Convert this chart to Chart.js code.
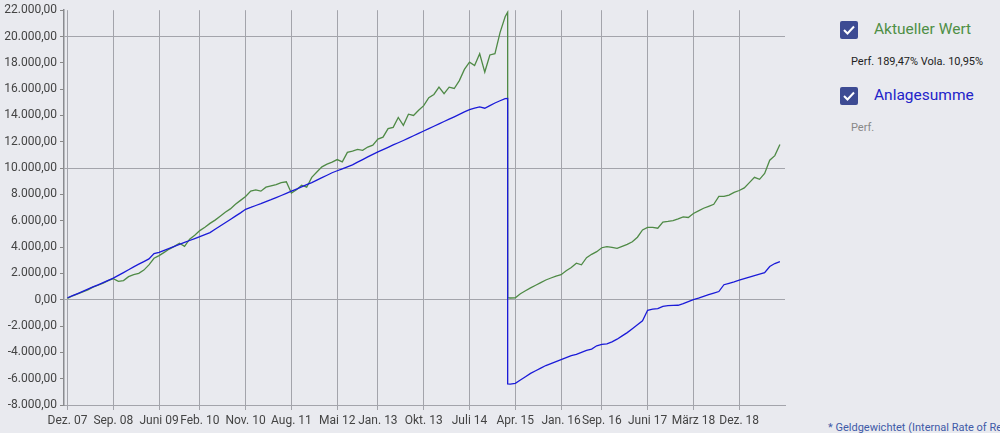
<!DOCTYPE html>
<html>
<head>
<meta charset="utf-8">
<script src="https://cdn.jsdelivr.net/npm/chart.js@4"></script>
<style>
  html, body { margin: 0; padding: 0; }
  body { width: 1000px; height: 433px; background: #e9eaef; font-family: Roboto, "Noto Sans", sans-serif; position: relative; overflow: hidden; }
  #chartBox { position: absolute; left: 0; top: 0; width: 790px; height: 433px; }
  .cb { position: absolute; width: 18px; height: 18px; background: #3d4b93; border-radius: 2px; }
  .cb svg { position: absolute; left: 3px; top: 4px; }
  .lbl { position: absolute; font-size: 15.5px; white-space: nowrap; }
  .sub { position: absolute; font-size: 11px; white-space: nowrap; }
  #note { position: absolute; left: 828px; top: 421px; font-size: 11px; color: #3f5aa8; white-space: nowrap; }
</style>
</head>
<body>
<div id="chartBox"><canvas id="perfChart"></canvas></div>

<div class="cb" style="left:840px; top:21px;"><svg width="12" height="10"><polyline points="1,5 4.5,8.5 11,1.5" fill="none" stroke="#fff" stroke-width="2"/></svg></div>
<div class="lbl" style="left:874px; top:20px; color:#4f8f46;">Aktueller Wert</div>
<div class="sub" style="left:851px; top:55px; color:#222;">Perf. 189,47% Vola. 10,95%</div>

<div class="cb" style="left:840px; top:87px;"><svg width="12" height="10"><polyline points="1,5 4.5,8.5 11,1.5" fill="none" stroke="#fff" stroke-width="2"/></svg></div>
<div class="lbl" style="left:874px; top:86px; color:#2323c9;">Anlagesumme</div>
<div class="sub" style="left:851px; top:121px; color:#888;">Perf.</div>

<div id="note">* Geldgewichtet (Internal Rate of Return)</div>

<script>
// x = months since Dez. 07; the drop happens mid-month, so 86.5 appears twice
const months = [];
for (let m = 0; m <= 86; m++) months.push(m);
months.push(86.5, 86.5);
for (let m = 87; m <= 140; m++) months.push(m);

const tickMonths = [0, 9, 18, 26, 35, 44, 53, 61, 70, 79, 88, 97, 105, 114, 123, 132];
const tickLabels = ['Dez. 07', 'Sep. 08', 'Juni 09', 'Feb. 10', 'Nov. 10', 'Aug. 11', 'Mai 12', 'Jan. 13',
  'Okt. 13', 'Juli 14', 'Apr. 15', 'Jan. 16', 'Sep. 16', 'Juni 17', 'März 18', 'Dez. 18'];

const aktuellerWert = [
  100, 300, 450, 600, 750, 950, 1100, 1250, 1450, 1600,
  1400, 1450, 1750, 1900, 2000, 2250, 2650, 3150, 3350, 3600,
  3850, 4050, 4290, 4050, 4600, 4900, 5250, 5500, 5800, 6050,
  6350, 6650, 6900, 7250, 7550, 7850, 8250, 8350, 8250, 8550,
  8650, 8750, 8900, 8960, 8100, 8350, 8700, 8550, 9300, 9700,
  10100, 10300, 10450, 10650, 10480, 11200, 11300, 11420, 11350, 11600,
  11750, 12200, 12350, 13000, 13100, 13850, 13250, 14100, 14000, 14400,
  14750, 15350, 15600, 16150, 15650, 16150, 16050, 16650, 17500, 18050,
  17800, 18690, 17300, 18600, 18700, 20300, 21500,
  21850, 150,
  130, 150, 450, 680, 900, 1100, 1300, 1500, 1650, 1800,
  1900, 2200, 2450, 2780, 2650, 3200, 3450, 3650, 3950, 4040,
  3980, 3900, 4050, 4200, 4400, 4750, 5300, 5500, 5500, 5430,
  5900, 5950, 6010, 6150, 6300, 6250, 6550, 6750, 6950, 7100,
  7250, 7850, 7850, 7950, 8150, 8300, 8500, 8900, 9300, 9150,
  9600, 10600, 10950, 11800
];

const anlagesumme = [
  150, 310, 470, 630, 800, 970, 1130, 1300, 1470, 1640,
  1850, 2060, 2280, 2500, 2700, 2900, 3100, 3500, 3600, 3750,
  3900, 4050, 4200, 4350, 4500, 4650, 4800, 4950, 5100, 5350,
  5600, 5850, 6100, 6350, 6600, 6870, 7010, 7160, 7300, 7450,
  7600, 7760, 7920, 8080, 8250, 8410, 8570, 8740, 8900, 9090,
  9280, 9460, 9650, 9800, 9950, 10100, 10250, 10450, 10650, 10850,
  11050, 11240, 11410, 11580, 11760, 11930, 12100, 12280, 12460, 12640,
  12820, 13000, 13180, 13360, 13540, 13720, 13900, 14080, 14270, 14450,
  14550, 14650, 14550, 14750, 14950, 15120, 15280,
  15300, -6400,
  -6420, -6350, -6100, -5850, -5600, -5400, -5200, -5000, -4850, -4700,
  -4550, -4400, -4250, -4150, -4000, -3850, -3750, -3500, -3400, -3350,
  -3200, -3000, -2750, -2500, -2200, -1900, -1600, -800, -720, -680,
  -500, -450, -430, -420, -300, -150, 0, 120, 250, 380,
  500, 620, 1140, 1250, 1360, 1480, 1600, 1720, 1840, 1950,
  2050, 2520, 2750, 2900
];

function deNumber(v) {
  const neg = v < 0;
  let s = Math.abs(v).toFixed(0).replace(/\B(?=(\d{3})+(?!\d))/g, '.');
  return (neg ? '-' : '') + s + ',00';
}

function toPoints(values) {
  return values.map((v, i) => ({ x: months[i], y: v }));
}

const gridGray = '#a3a4ab';

window.onload = function () {
  const ctx = document.getElementById('perfChart').getContext('2d');
  new Chart(ctx, {
    type: 'line',
    data: {
      datasets: [{
        label: 'Aktueller Wert',
        data: toPoints(aktuellerWert),
        borderColor: '#4f8a46',
        borderWidth: 1.3,
        pointRadius: 0,
        tension: 0,
        order: 2
      }, {
        label: 'Anlagesumme',
        data: toPoints(anlagesumme),
        borderColor: '#1b1bd8',
        borderWidth: 1.3,
        pointRadius: 0,
        tension: 0,
        order: 1
      }]
    },
    options: {
      responsive: true,
      maintainAspectRatio: false,
      animation: false,
      layout: { padding: { top: 10, right: 5, left: 0, bottom: 0 } },
      plugins: {
        legend: { display: false },
        tooltip: { enabled: false }
      },
      scales: {
        x: {
          type: 'linear',
          min: -0.69,
          max: 141,
          afterBuildTicks: function (scale) {
            scale.ticks = tickMonths.map(v => ({ value: v }));
          },
          afterFit: function (scale) { scale.height = 28; },
          grid: { color: gridGray, lineWidth: 1, tickLength: 5 },
          border: { color: gridGray, width: 1 },
          ticks: {
            autoSkip: false,
            maxRotation: 0,
            padding: 4,
            color: '#444',
            font: { family: 'Roboto', size: 12 },
            callback: function (value) {
              const i = tickMonths.indexOf(value);
              return i >= 0 ? tickLabels[i] : '';
            }
          }
        },
        y: {
          min: -8000,
          max: 22000,
          afterFit: function (scale) { scale.width = 64; },
          grid: {
            color: c => (c.tick && c.tick.value % 10000 === 0) ? gridGray : 'rgba(0,0,0,0)',
            tickColor: '#888',
            tickLength: 4,
            lineWidth: 1
          },
          border: { color: '#8a8b90', width: 1.5 },
          ticks: {
            stepSize: 2000,
            padding: 3,
            color: '#444',
            font: { family: 'Roboto', size: 12 },
            callback: function (value) { return deNumber(value); }
          }
        }
      }
    }
  });
};
</script>
</body>
</html>
